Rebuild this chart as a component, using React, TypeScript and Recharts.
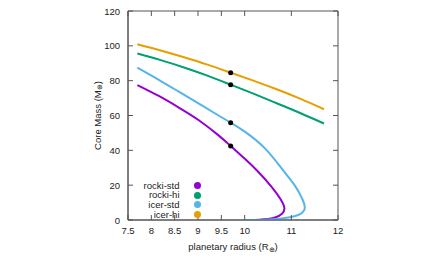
import { Legend, Line, LineChart, ReferenceArea, XAxis, YAxis } from "recharts";

// Values: [radius (R_earth), core mass (M_earth)].
// The "-std" curves bend back near the bottom, so points stay in path order.
const rockiStd: [number, number][] = [
  [7.7, 77.5], [8.16, 71.2], [8.58, 64.7], [9.01, 57.4], [9.44, 48.6],
  [9.7, 42.5], [10.01, 35.0], [10.3, 27.4], [10.59, 18.6], [10.77, 11.9],
  [10.85, 7.0], [10.8, 3.6], [10.62, 1.1], [10.32, 0.15], [10.05, 0],
];
const rockiHi: [number, number][] = [
  [7.7, 95.6], [8.2, 91.8], [8.7, 87.6], [9.2, 82.9], [9.7, 77.7],
  [10.2, 72.4], [10.7, 66.9], [11.2, 61.3], [11.7, 55.4],
];
const icerStd: [number, number][] = [
  [7.7, 87.5], [8.16, 80.5], [8.58, 73.8], [9.01, 66.9], [9.44, 60.0],
  [9.7, 55.9], [10.01, 50.6], [10.44, 41.0], [10.8, 29.3], [11.08, 19.6],
  [11.25, 11.2], [11.28, 6.0], [11.1, 2.4], [10.7, 0.6], [10.3, 0.05], [10.0, 0],
];
const icerHi: [number, number][] = [
  [7.7, 100.9], [8.2, 97.3], [8.7, 93.4], [9.2, 89.2], [9.7, 84.6],
  [10.2, 79.9], [10.7, 74.9], [11.2, 69.5], [11.7, 63.6],
];
// black markers at 9.7 R_earth
const markers: [number, number][] = [
  [9.7, 84.6], [9.7, 77.7], [9.7, 55.9], [9.7, 42.5],
];

const X_TICKS = [7.5, 8, 8.5, 9, 9.5, 10, 10.5, 11, 11.5, 12];
const Y_TICKS = [0, 20, 40, 60, 80, 100, 120];

const SERIES = [
  { name: "rocki-std", color: "#9400d3", points: rockiStd },
  { name: "rocki-hi", color: "#009e73", points: rockiHi },
  { name: "icer-std", color: "#56b4e9", points: icerStd },
  { name: "icer-hi", color: "#e69f00", points: icerHi },
];

const toRows = (pts: [number, number][]) => pts.map(([x, y]) => ({ x, y }));

const FONT = '"Liberation Sans", Arial, sans-serif';
const TEXT = "#222";
const FRAME = "#555";
const MARGIN = { top: 11, right: 98, bottom: 2, left: 88 };
const W = 436;
const H = 262;
const PLOT_TOP = MARGIN.top;
const PLOT_RIGHT = W - MARGIN.right;
const TICK_LEN = 5;
const X_TICK_MARGIN = 10;
const Y_TICK_MARGIN = 8;

// gnuplot-style ticks: pointing inward, mirrored on the opposite side
function XTick(props: any) {
  const { x, y, payload } = props;
  const axisY = y - X_TICK_MARGIN;
  return (
    <g>
      <line x1={x} x2={x} y1={axisY} y2={axisY - TICK_LEN} stroke={FRAME} />
      <line x1={x} x2={x} y1={PLOT_TOP} y2={PLOT_TOP + TICK_LEN} stroke={FRAME} />
      <text x={x} y={y} textAnchor="middle" dominantBaseline="central" fontSize={9.5} fontFamily={FONT} fill={TEXT}>
        {payload.value}
      </text>
    </g>
  );
}

function YTick(props: any) {
  const { x, y, payload } = props;
  const axisX = x + Y_TICK_MARGIN;
  return (
    <g>
      <line x1={axisX} x2={axisX + TICK_LEN} y1={y} y2={y} stroke={FRAME} />
      <line x1={PLOT_RIGHT} x2={PLOT_RIGHT - TICK_LEN} y1={y} y2={y} stroke={FRAME} />
      <text x={x} y={y} textAnchor="end" dominantBaseline="central" fontSize={9.5} fontFamily={FONT} fill={TEXT}>
        {payload.value}
      </text>
    </g>
  );
}

function XTitle(props: any) {
  const { x, y, width } = props.viewBox;
  return (
    <text x={x + width / 2} y={y + 30} textAnchor="middle" fontSize={9.5} fontFamily={FONT} fill={TEXT}>
      planetary radius (R
      <tspan fontSize={6.5} dy={2}>⊕</tspan>
      <tspan dy={-2}>)</tspan>
    </text>
  );
}

function YTitle(props: any) {
  const { x, y, height } = props.viewBox;
  const cx = x + 9;
  const cy = y + height / 2;
  return (
    <text
      x={cx}
      y={cy}
      transform={`rotate(-90 ${cx} ${cy})`}
      textAnchor="middle"
      dominantBaseline="central"
      fontSize={9.5}
      fontFamily={FONT}
      fill={TEXT}
    >
      Core Mass (M
      <tspan fontSize={6.5} dy={2}>⊕</tspan>
      <tspan dy={-2}>)</tspan>
    </text>
  );
}

function KeyBox() {
  return (
    <div style={{ fontFamily: FONT, fontSize: 9.5, color: TEXT }}>
      {SERIES.map((s) => (
        <div
          key={s.name}
          style={{ display: "flex", alignItems: "center", justifyContent: "flex-end", height: 9.7 }}
        >
          <span style={{ lineHeight: "9.7px" }}>{s.name}</span>
          <span
            style={{
              display: "inline-block",
              width: 7,
              height: 7,
              borderRadius: "50%",
              background: s.color,
              marginLeft: 14.5,
            }}
          />
        </div>
      ))}
    </div>
  );
}

export default function App() {
  return (
    <div style={{ position: "absolute", left: 0, top: 0, width: W, height: H, background: "#fff" }}>
      <LineChart width={W} height={H} margin={MARGIN}>
        <XAxis
          dataKey="x"
          type="number"
          domain={[7.5, 12]}
          ticks={X_TICKS}
          allowDataOverflow
          height={40}
          tickSize={0}
          tickMargin={X_TICK_MARGIN}
          tick={<XTick />}
          axisLine={{ stroke: FRAME }}
          label={<XTitle />}
        />
        <YAxis
          type="number"
          domain={[0, 120]}
          ticks={Y_TICKS}
          allowDataOverflow
          width={40}
          tickSize={0}
          tickMargin={Y_TICK_MARGIN}
          tick={<YTick />}
          axisLine={{ stroke: FRAME }}
          label={<YTitle />}
        />
        <ReferenceArea x1={7.5} x2={12} y1={0} y2={120} fill="none" stroke={FRAME} strokeWidth={1} />
        {SERIES.map((s) => (
          <Line
            key={s.name}
            name={s.name}
            data={toRows(s.points)}
            dataKey="y"
            type="natural"
            stroke={s.color}
            strokeWidth={2}
            dot={false}
            activeDot={false}
            isAnimationActive={false}
          />
        ))}
        <Line
          data={toRows(markers)}
          dataKey="y"
          stroke="none"
          dot={{ r: 2.5, fill: "#000", stroke: "none" }}
          activeDot={false}
          legendType="none"
          isAnimationActive={false}
        />
        <Legend
          layout="horizontal"
          verticalAlign="middle"
          content={<KeyBox />}
          wrapperStyle={{ position: "absolute", left: 130, top: 180.5, width: 71 }}
        />
      </LineChart>
    </div>
  );
}
